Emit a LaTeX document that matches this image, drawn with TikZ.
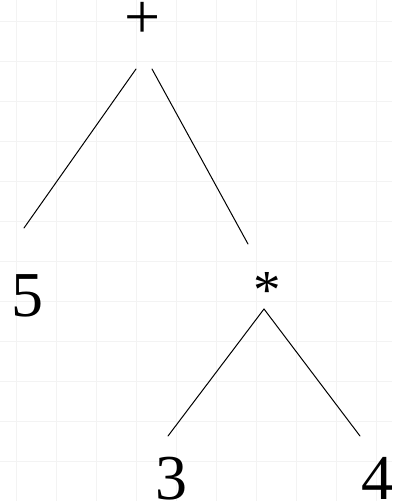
\documentclass[tikz,border=0pt]{standalone}
\usepackage{fontspec}
\setmainfont{Liberation Serif}
\usepackage{xcolor}
\usepackage{tikz}
\definecolor{paper}{HTML}{F3F3F3}
\tikzset{leaf/.style={inner sep=0pt,anchor=base,font=\fontsize{64}{64}\selectfont},
  edge/.style={line width=1pt,line cap=round}}

\begin{document}
\begin{tikzpicture}[x=1pt,y=1pt]
  \useasboundingbox (0,0) rectangle (392,-501);
  % faint squared paper
  \foreach \gx in {16,56,...,376} \draw[paper,line width=0.8pt] (\gx,0) -- (\gx,-501);
  \foreach \gy in {-21,-61,...,-461} \draw[paper,line width=0.8pt] (0,\gy) -- (392,\gy);
  \node[leaf] (plus) at (143,-38) {+};
  \node[leaf] (five) at (27,-316) {5};
  \node[leaf,font=\fontsize{55}{55}\selectfont] (star) at (267,-308) {*};
  \node[leaf] (three) at (171,-499) {3};
  \node[leaf] (four) at (377,-499) {4};
  \draw[edge] ([xshift=-7pt,yshift=-31pt]plus.base) -- ([xshift=-3pt,yshift=88pt]five.base);
  \draw[edge] ([xshift=9pt,yshift=-31pt]plus.base) -- ([xshift=-19pt,yshift=64pt]star.base);
  \draw[edge] ([xshift=-3pt,yshift=-1pt]star.base) -- ([xshift=-3pt,yshift=63pt]three.base);
  \draw[edge] ([xshift=-3pt,yshift=-1pt]star.base) -- ([xshift=-17pt,yshift=63pt]four.base);
\end{tikzpicture}
\end{document}
